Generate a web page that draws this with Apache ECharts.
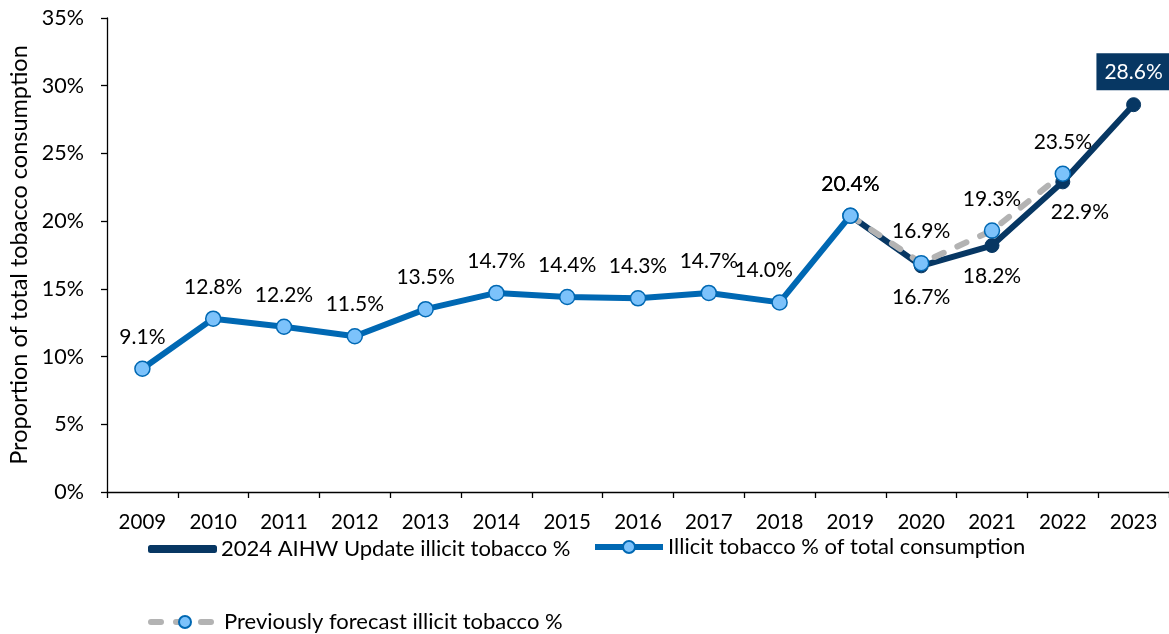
<!DOCTYPE html>
<html>
<head>
<meta charset="utf-8">
<script src="https://cdn.jsdelivr.net/npm/echarts@6/dist/echarts.min.js"></script>
<style>html,body{margin:0;padding:0;background:#fff}#c{width:1169px;height:634px}</style>
</head>
<body>
<div id="c"></div>
<script>
const years = ['2009','2010','2011','2012','2013','2014','2015','2016','2017','2018','2019','2020','2021','2022','2023'];
const illicitPct = [9.1,12.8,12.2,11.5,13.5,14.7,14.4,14.3,14.7,14.0,20.4,null,null,null,null];
const aihw2024Pct = [null,null,null,null,null,null,null,null,null,null,20.4,16.7,18.2,22.9,28.6];
const forecastPct = [null,null,null,null,null,null,null,null,null,null,20.4,16.9,19.3,23.5,null];
const yTicks = [0,5,10,15,20,25,30,35];

const FONT = 'Lato';
const DARK = '#073763';
const BLUE = '#0068b3';
const LIGHT = '#7cc2fb';
const GRAY = '#b3b3b3';
const TXT = '#000';

const fmt = p => (p.value == null ? '' : Number(p.value).toFixed(1) + '%');
const baseLabel = {show:true, formatter: fmt, fontFamily: FONT, fontSize: 21, color:TXT};

function build(values, labelFor) {
  return values.map((v, i) => {
    if (v == null) return null;
    return {value: v, label: labelFor(i)};
  });
}

const legendText = {fontFamily:FONT, fontSize:22, color:TXT};

const chart = echarts.init(document.getElementById('c'));
chart.setOption({
  animation:false,
  backgroundColor:'#fff',
  grid:{left:107, top:18, width:1062, bottom:142, containLabel:false, outerBoundsMode:'none'},
  xAxis:{
    type:'category', data: years, boundaryGap:true,
    axisLine:{lineStyle:{color:'#000', width:1.3}},
    axisTick:{show:true, length:6, lineStyle:{color:'#000', width:1.3}},
    axisLabel:{fontFamily:FONT, fontSize:20.5, color:TXT, margin:20}
  },
  yAxis:{
    type:'value', min:yTicks[0], max:yTicks[yTicks.length-1], interval:5,
    name:'Proportion of total tobacco consumption', nameLocation:'middle', nameGap:76,
    nameTextStyle:{fontFamily:FONT, fontSize:23.5, color:TXT},
    splitLine:{show:false},
    axisLine:{show:true, lineStyle:{color:'#000', width:1.3}},
    axisTick:{show:true, length:6, lineStyle:{color:'#000', width:1.3}},
    axisLabel:{fontFamily:FONT, fontSize:21.5, color:TXT, margin:23, formatter: v => v + '%'}
  },
  legend:[
    {data:[{name:'2024 AIHW Update illicit tobacco %', icon:'roundRect'}], left:148, top:538, padding:0, itemWidth:67, itemHeight:6, itemGap:24,
     textStyle:legendText},
    {data:['Illicit tobacco % of total consumption'], left:592, top:536, padding:0, itemWidth:68, itemHeight:15,
     lineStyle:{width:6}, textStyle:legendText},
    {data:['Previously forecast illicit tobacco %'], left:148, top:611, padding:0, itemWidth:68, itemHeight:15,
     lineStyle:{width:6}, textStyle:legendText}
  ],
  series:[
    {
      name:'2024 AIHW Update illicit tobacco %', type:'line', z:2,
      data: build(aihw2024Pct, i => {
        if (i === 10) return {show:false};
        if (i === 14) return Object.assign({}, baseLabel, {position:'top', distance:7, color:'#fff', backgroundColor:DARK, padding:[9,8,7,8]});
        if (i === 13) return Object.assign({}, baseLabel, {position:'bottom', distance:12, offset:[17,0]});
        return Object.assign({}, baseLabel, {position:'bottom', distance:13});
      }),
      symbol:'circle', symbolSize:14, showAllSymbol:true,
      lineStyle:{color:DARK, width:6},
      itemStyle:{color:DARK, borderColor:DARK, borderWidth:1}
    },
    {
      name:'Previously forecast illicit tobacco %', type:'line', z:3,
      data: build(forecastPct, i => Object.assign({}, baseLabel, {position:'top', distance:13})),
      symbol:'circle', symbolSize:15, showAllSymbol:true,
      lineStyle:{color:GRAY, width:6, type:[10,15], cap:'round'},
      itemStyle:{color:LIGHT, borderColor:BLUE, borderWidth:1.5}
    },
    {
      name:'Illicit tobacco % of total consumption', type:'line', z:4,
      data: build(illicitPct, i => {
        if (i === 9) return Object.assign({}, baseLabel, {position:'top', distance:13, offset:[-16,0]});
        return Object.assign({}, baseLabel, {position:'top', distance:13});
      }),
      symbol:'circle', symbolSize:15, showAllSymbol:true,
      lineStyle:{color:BLUE, width:6},
      itemStyle:{color:LIGHT, borderColor:BLUE, borderWidth:1.5}
    }
  ]
});
</script>
</body>
</html>
